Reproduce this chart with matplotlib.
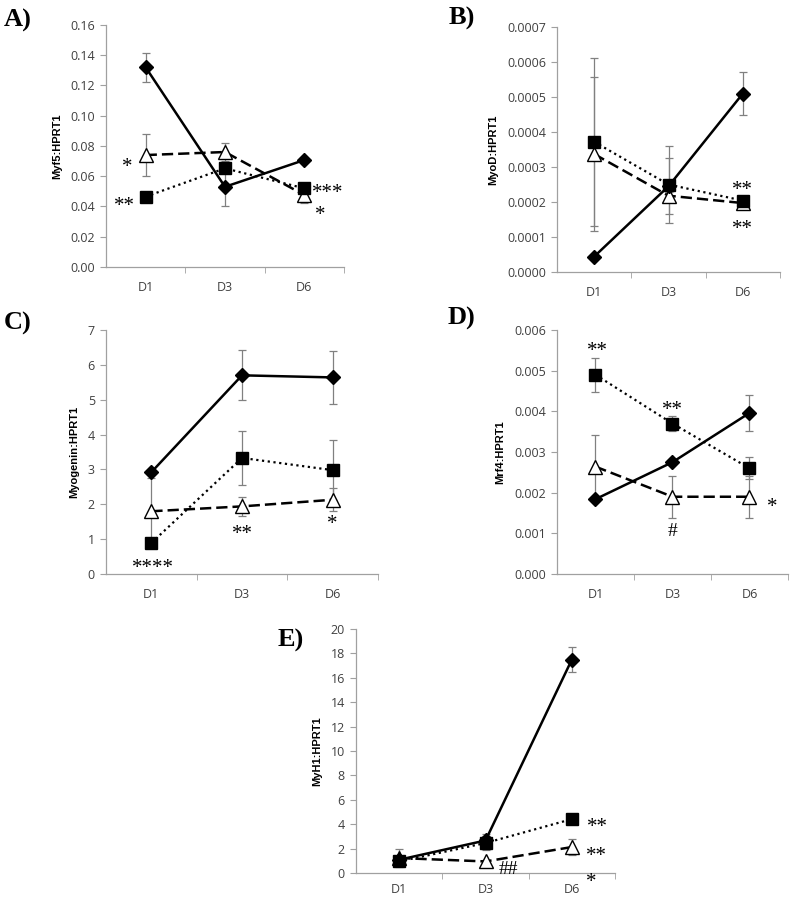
import matplotlib
matplotlib.use("Agg")
import matplotlib.pyplot as plt
import numpy as np

days = ["D1", "D3", "D6"]

# Panel A: Myf5
myf5_dia = [0.132, 0.053, 0.0707]
myf5_dia_err = [0.0095, 0.0127, 0.001]
myf5_sq = [0.0465, 0.0652, 0.052]
myf5_sq_err = [0.003, 0.003, 0.002]
myf5_tri = [0.074, 0.076, 0.0476]
myf5_tri_err = [0.014, 0.006, 0.005]

# Panel B: MyoD
myod_dia = [0.000044, 0.000245, 0.00051]
myod_dia_err = [0.000002, 0.00008, 0.000062]
myod_sq = [0.000372, 0.00025, 0.000204]
myod_sq_err = [0.00024, 0.00011, 0.000008]
myod_tri = [0.000337, 0.000218, 0.000197]
myod_tri_err = [0.00022, 0.00001, 0.000008]

# Panel C: Myogenin
myog_dia = [2.92, 5.7, 5.64]
myog_dia_err = [0.05, 0.72, 0.77]
myog_sq = [0.89, 3.33, 2.98]
myog_sq_err = [0.05, 0.77, 0.86]
myog_tri = [1.8, 1.94, 2.13]
myog_tri_err = [0.95, 0.28, 0.33]

# Panel D: Mrf4
mrf4_dia = [0.00184, 0.00275, 0.00396]
mrf4_dia_err = [0.00003, 0.00003, 0.00044]
mrf4_sq = [0.0049, 0.0037, 0.0026]
mrf4_sq_err = [0.00042, 0.00019, 0.00027]
mrf4_tri = [0.00264, 0.0019, 0.0019]
mrf4_tri_err = [0.00079, 0.00052, 0.00052]

# Panel E: MyH1
myh1_dia = [1.09, 2.67, 17.5]
myh1_dia_err = [0.1, 0.5, 1.0]
myh1_sq = [0.95, 2.46, 4.42]
myh1_sq_err = [0.1, 0.6, 0.3]
myh1_tri = [1.23, 0.95, 2.13]
myh1_tri_err = [0.7, 0.1, 0.63]

panels = [
    dict(letter="A)", ylabel="Myf5:HPRT1", ylim=(0, 0.16), yticks=np.arange(0, 0.161, 0.02), fmt="{:.2f}",
         dia=(myf5_dia, myf5_dia_err), sq=(myf5_sq, myf5_sq_err), tri=(myf5_tri, myf5_tri_err),
         pos=[0.1335, 0.7027, 0.2997, 0.2695], letter_xy=(0.022, 0.977), xpad=10,
         notes=[("*", -0.23, 0.0688), ("**", -0.27, 0.043), ("***", 2.3, 0.0515), ("*", 2.2, 0.0375)]),
    dict(letter="B)", ylabel="MyoD:HPRT1", ylim=(0, 0.0007), yticks=np.arange(0, 0.00071, 0.0001), fmt="{:.4f}",
         dia=(myod_dia, myod_dia_err), sq=(myod_sq, myod_sq_err), tri=(myod_tri, myod_tri_err),
         pos=[0.7015, 0.6971, 0.2809, 0.2728], letter_xy=(0.581, 0.979), xpad=10,
         notes=[("**", 2.0, 0.000247), ("**", 2.0, 0.000134)]),
    dict(letter="C)", ylabel="Myogenin:HPRT1", ylim=(0, 7), yticks=np.arange(0, 8, 1), fmt="{:.0f}",
         dia=(myog_dia, myog_dia_err), sq=(myog_sq, myog_sq_err), tri=(myog_tri, myog_tri_err),
         pos=[0.1335, 0.3608, 0.3426, 0.2717], letter_xy=(0.022, 0.64), xpad=10,
         notes=[("****", 0.02, 0.3), ("**", 1.0, 1.27), ("*", 2.0, 1.56)]),
    dict(letter="D)", ylabel="Mrf4:HPRT1", ylim=(0, 0.006), yticks=np.arange(0, 0.0061, 0.001), fmt="{:.3f}",
         dia=(mrf4_dia, mrf4_dia_err), sq=(mrf4_sq, mrf4_sq_err), tri=(mrf4_tri, mrf4_tri_err),
         pos=[0.7015, 0.3608, 0.2909, 0.2717], letter_xy=(0.581, 0.645), xpad=10,
         notes=[("**", 0.03, 0.0056), ("**", 1.0, 0.00413), ("#", 1.0, 0.00104), ("*", 2.29, 0.00175)]),
    dict(letter="E)", ylabel="MyH1:HPRT1", ylim=(0, 20), yticks=np.arange(0, 21, 2), fmt="{:.0f}",
         dia=(myh1_dia, myh1_dia_err), sq=(myh1_sq, myh1_sq_err), tri=(myh1_tri, myh1_tri_err),
         pos=[0.4484, 0.0278, 0.3262, 0.2717], letter_xy=(0.366, 0.287), xpad=7,
         notes=[("**", 2.3, 4.1), ("**", 2.29, 1.75), ("*", 2.22, -0.4), ("##", 1.26, 0.27)]),
]

fig = plt.figure(figsize=(7.94, 8.98), dpi=100)
tick_color = "#404040"
spine_color = "#a0a0a0"
err_color = "#808080"
x = np.arange(3)

for p in panels:
    ax = fig.add_axes(p["pos"])
    ekw = dict(ecolor=err_color, elinewidth=0.9, capsize=3, capthick=0.9)
    # triangle dashed
    y, e = p["tri"]
    ax.errorbar(x, y, yerr=e, fmt="none", zorder=2, **ekw)
    ax.plot(x, y, color="black", lw=1.8, ls=(0, (4.5, 2)), marker="^", ms=10,
            mfc="white", mec="black", mew=1.0, zorder=4)
    # square dotted
    y, e = p["sq"]
    ax.errorbar(x, y, yerr=e, fmt="none", zorder=2, **ekw)
    ax.plot(x, y, color="black", lw=1.6, ls=(0, (1, 1.6)), marker="s", ms=9,
            mfc="black", mec="black", zorder=5)
    # diamond solid
    y, e = p["dia"]
    ax.errorbar(x, y, yerr=e, fmt="none", zorder=2, **ekw)
    ax.plot(x, y, color="black", lw=1.8, ls="-", marker="D", ms=7.5,
            mfc="black", mec="black", zorder=6)

    ax.set_xlim(-0.5, 2.5)
    ax.set_ylim(*p["ylim"])
    ax.set_yticks(p["yticks"])
    ax.set_yticklabels([p["fmt"].format(v) for v in p["yticks"]], fontsize=9,
                       color=tick_color, family="Open Sans")
    ax.set_xticks(x)
    ax.set_xticklabels(days, fontsize=9, color=tick_color, family="Open Sans")
    ax.set_xticks([0.5, 1.5, 2.5], minor=True)
    ax.tick_params(axis="x", which="major", length=0, pad=p["xpad"])
    ax.tick_params(axis="x", which="minor", length=4, color=spine_color, direction="out")
    ax.tick_params(axis="y", length=4, color=spine_color, direction="out", pad=4)
    for s in ["top", "right"]:
        ax.spines[s].set_visible(False)
    for s in ["left", "bottom"]:
        ax.spines[s].set_color(spine_color)
        ax.spines[s].set_linewidth(0.9)
    ax.set_ylabel(p["ylabel"], fontsize=8, fontweight="bold", family="Liberation Sans", labelpad=6)
    for txt, nx, ny in p["notes"]:
        if "#" in txt:
            ax.annotate(txt, (nx, ny), xytext=(0, 0), textcoords="offset points",
                        ha="center", va="center", fontsize=14, family="Liberation Serif",
                        annotation_clip=False)
        else:
            ax.annotate(txt, (nx, ny), xytext=(0, -3.5), textcoords="offset points",
                        ha="center", va="center", fontsize=15, family="Liberation Serif",
                        annotation_clip=False)
    fig.text(p["letter_xy"][0], p["letter_xy"][1], p["letter"], fontsize=19, fontweight="bold",
             family="Liberation Serif", ha="center", va="center")

fig.savefig("out.png", dpi=100)
